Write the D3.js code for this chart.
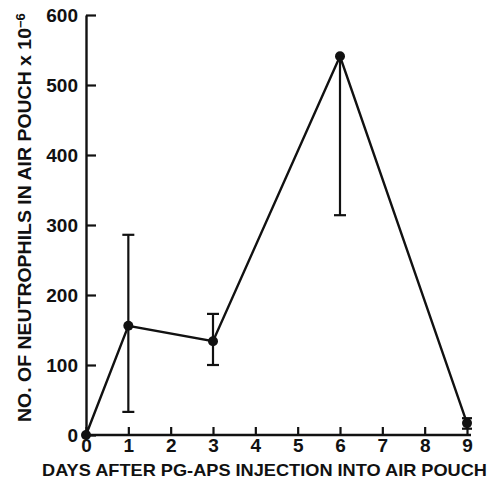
<!DOCTYPE html>
<html>
<head>
<meta charset="utf-8">
<script src="https://cdn.jsdelivr.net/npm/d3@7"></script>
<style>
  html, body { margin: 0; padding: 0; background: #fff; }
  text { font-family: "Liberation Sans", Arial, sans-serif; font-weight: bold; fill: #111; }
</style>
</head>
<body>
<div id="chart"></div>
<script>
// values
const days = [0, 1, 3, 6, 9];
const neutrophils = [0, 156, 134, 541, 17];
const errUpper = [0, 286, 173, 541, 24];
const errLower = [0, 33, 100, 314, 9];
const xTicks = [0, 1, 2, 3, 4, 5, 6, 7, 8, 9];
const yTicks = [0, 100, 200, 300, 400, 500, 600];

const svgWidth = 490, svgHeight = 479;
const margin = { top: 15, right: 20, bottom: 44, left: 86 };
const width = 467 - margin.left;
const height = 435 - margin.top;

const svg = d3.select("#chart").append("svg")
    .attr("width", svgWidth)
    .attr("height", svgHeight)
    .append("g")
    .attr("transform", "translate(" + margin.left + "," + margin.top + ")");

const x = d3.scaleLinear().domain([0, 9]).range([0, width]);
const y = d3.scaleLinear().domain([0, 600]).range([height, 0]);

// axes, ticks pointing inward
const xAxis = svg.append("g")
    .attr("transform", "translate(0," + height + ")")
    .call(d3.axisBottom(x).tickValues(xTicks).tickSize(-8).tickPadding(4).tickSizeOuter(0));
xAxis.select(".domain").attr("d", "M0,0H" + (width + 4));

const yAxis = svg.append("g")
    .call(d3.axisLeft(y).tickValues(yTicks).tickSize(-10).tickPadding(8).tickSizeOuter(0));

svg.selectAll(".domain").attr("stroke", "#111").attr("stroke-width", 2.4);
svg.selectAll(".tick line").attr("stroke", "#111").attr("stroke-width", 2.2);
svg.selectAll(".tick text").style("font-size", "19px").attr("fill", "#111");

// error bars
const pts = days.map((d, i) => ({ day: d, v: neutrophils[i], hi: errUpper[i], lo: errLower[i] }));
const eb = svg.append("g").attr("stroke", "#111").attr("stroke-width", 2.2);
pts.filter(d => d.hi !== d.lo).forEach(d => {
    eb.append("line").attr("x1", x(d.day)).attr("x2", x(d.day)).attr("y1", y(d.hi)).attr("y2", y(d.lo));
    const cap = d.day === 9 ? 5 : 6;
    if (d.hi > d.v) eb.append("line").attr("x1", x(d.day) - cap).attr("x2", x(d.day) + cap).attr("y1", y(d.hi)).attr("y2", y(d.hi));
    eb.append("line").attr("x1", x(d.day) - cap).attr("x2", x(d.day) + cap).attr("y1", y(d.lo)).attr("y2", y(d.lo));
});

// line + markers
svg.append("path")
    .datum(pts)
    .attr("fill", "none")
    .attr("stroke", "#111")
    .attr("stroke-width", 2.4)
    .attr("d", d3.line().x(d => x(d.day)).y(d => y(d.v)));

svg.selectAll(".dot").data(pts).enter().append("circle")
    .attr("class", "dot")
    .attr("cx", d => x(d.day))
    .attr("cy", d => y(d.v))
    .attr("r", 5)
    .attr("fill", "#111");

// axis titles
svg.append("text")
    .attr("x", 42 - margin.left)
    .attr("y", 476 - margin.top)
    .attr("textLength", 445)
    .attr("lengthAdjust", "spacingAndGlyphs")
    .style("font-size", "17px")
    .text("DAYS AFTER PG-APS INJECTION INTO AIR POUCH");

const yTitle = svg.append("text")
    .attr("transform", "translate(" + (31 - margin.left) + "," + (422 - margin.top) + ") rotate(-90)")
    .style("font-size", "18.5px");
yTitle.append("tspan").attr("textLength", 394).attr("lengthAdjust", "spacingAndGlyphs")
    .text("NO. OF NEUTROPHILS IN AIR POUCH x 10");
yTitle.append("tspan").attr("dy", "-0.5em").style("font-size", "13px").text("−6");
</script>
</body>
</html>
